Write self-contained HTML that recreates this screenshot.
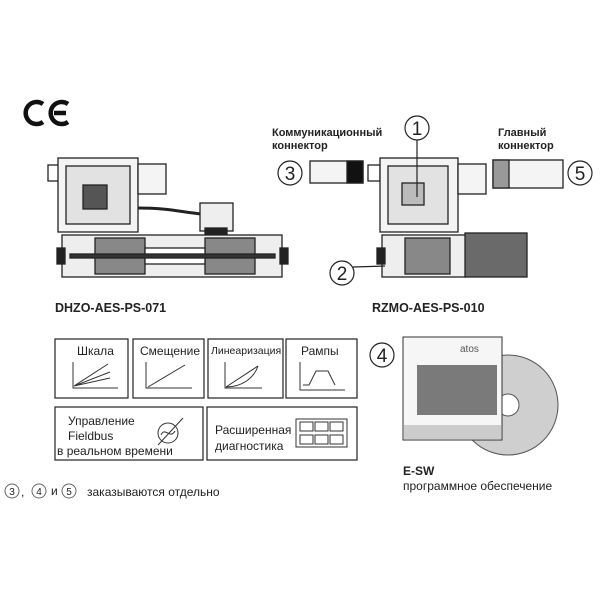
<!DOCTYPE html>
<html><head><meta charset="utf-8"><style>
html,body{margin:0;padding:0;background:#fff;}
svg{display:block;font-family:"Liberation Sans",sans-serif;}
</style></head><body>
<svg width="600" height="600" viewBox="0 0 600 600" xmlns="http://www.w3.org/2000/svg">
<rect width="600" height="600" fill="#fff"/>
<g fill="none" stroke="#111" stroke-width="4.5">
<path d="M43 104 A11 11 0 1 0 43 122"/>
<path d="M68 104 A11 11 0 1 0 68 122 M54 113H66"/>
</g>
<!-- left valve -->
<g stroke="#222" stroke-width="1.3" fill="#fff">
<rect x="48" y="165" width="12" height="16"/>
<rect x="58" y="158" width="80" height="74" fill="#f4f4f4"/>
<rect x="66" y="166" width="64" height="58" fill="#e2e2e2"/>
<rect x="83" y="185" width="24" height="24" fill="#555"/>
<rect x="138" y="164" width="28" height="30" fill="#f4f4f4"/>
<path d="M138 208 C170 208,180 212,202 214" fill="none" stroke-width="3"/>
<rect x="200" y="203" width="33" height="28" fill="#eee"/>
<rect x="205" y="228" width="22" height="10" fill="#222"/>
<rect x="62" y="235" width="220" height="42" fill="#eee"/>
<rect x="57" y="248" width="8" height="16" fill="#222"/>
<rect x="280" y="248" width="8" height="16" fill="#222"/>
<rect x="95" y="238" width="50" height="36" fill="#888"/>
<rect x="205" y="238" width="50" height="36" fill="#888"/>
<rect x="145" y="248" width="60" height="16" fill="#fff"/>
<rect x="70" y="254" width="205" height="4" fill="#333"/>
</g>
<!-- right valve -->
<g stroke="#222" stroke-width="1.3" fill="#fff">
<rect x="368" y="165" width="12" height="16"/>
<rect x="380" y="158" width="78" height="74" fill="#f4f4f4"/>
<rect x="388" y="166" width="60" height="58" fill="#e2e2e2"/>
<rect x="402" y="183" width="22" height="22" fill="#bbb"/>
<rect x="458" y="164" width="28" height="30" fill="#f4f4f4"/>
<rect x="382" y="235" width="84" height="42" fill="#eee"/>
<rect x="377" y="248" width="8" height="16" fill="#222"/>
<rect x="405" y="238" width="45" height="36" fill="#888"/>
<rect x="465" y="233" width="62" height="44" fill="#6a6a6a"/>
<rect x="493" y="160" width="70" height="28" fill="#f4f4f4"/>
<rect x="493" y="160" width="16" height="28" fill="#999"/>
<rect x="310" y="161" width="53" height="22" fill="#f4f4f4"/>
<rect x="347" y="161" width="16" height="22" fill="#111"/>
</g>
<g fill="none" stroke="#222" stroke-width="1.2">
<circle cx="417" cy="128" r="12"/><line x1="417" y1="140" x2="417" y2="197"/>
<circle cx="290" cy="173" r="12"/>
<circle cx="580" cy="173" r="12"/>
<circle cx="342" cy="273" r="12"/><line x1="353" y1="267" x2="385" y2="266"/>
</g>
<g font-size="19" text-anchor="middle" fill="#222">
<text x="417" y="135">1</text><text x="290" y="180">3</text><text x="580" y="180">5</text><text x="342" y="280">2</text>
</g>
<g font-size="11" font-weight="bold" fill="#222">
<text x="272" y="136">Коммуникационный</text><text x="272" y="149">коннектор</text>
<text x="498" y="136">Главный</text><text x="498" y="149">коннектор</text>
<text x="55" y="312" font-size="12.5">DHZO-AES-PS-071</text>
<text x="372" y="312" font-size="12.5">RZMO-AES-PS-010</text>
</g>
<!-- function boxes -->
<g fill="none" stroke="#222" stroke-width="1.2">
<rect x="55" y="339" width="73" height="59"/><rect x="133" y="339" width="71" height="59"/>
<rect x="208" y="339" width="75" height="59"/><rect x="286" y="339" width="71" height="59"/>
<rect x="55" y="407" width="148" height="53"/><rect x="207" y="407" width="150" height="53"/>
</g>
<g font-size="12" fill="#222">
<text x="77" y="355">Шкала</text><text x="140" y="355">Смещение</text>
<text x="211" y="354" font-size="10.5">Линеаризация</text><text x="301" y="355">Рампы</text>
<text x="68" y="425">Управление</text><text x="68" y="440">Fieldbus</text><text x="57" y="455">в реальном времени</text>
<text x="215" y="434">Расширенная</text><text x="215" y="450">диагностика</text>
</g>
<g fill="none" stroke="#333" stroke-width="1">
<path d="M73 362V388H118M74 386L108 364M74 386L110 372M74 386L110 378"/>
<path d="M146 362V388H192M148 387L185 365"/>
<path d="M225 362V388H262M226 387L258 366M226 387C242 387,254 378,258 366"/>
<path d="M300 362V390H345M303 385H309L316 371H328L335 385"/>
<circle cx="168" cy="433" r="10"/><path d="M158 445L183 418M161 435C165 426,170 440,175 431"/>
<rect x="296" y="419" width="51" height="28"/>
<rect x="300" y="422" width="13" height="9"/><rect x="315" y="422" width="13" height="9"/><rect x="330" y="422" width="13" height="9"/>
<rect x="300" y="435" width="13" height="9"/><rect x="315" y="435" width="13" height="9"/><rect x="330" y="435" width="13" height="9"/>
</g>
<!-- CD -->
<circle cx="508" cy="405" r="50" fill="#cfcfcf" stroke="#555"/>
<circle cx="508" cy="405" r="11" fill="#fff" stroke="#555"/>
<rect x="403" y="337" width="99" height="103" fill="#f6f6f6" stroke="#333"/>
<rect x="417" y="365" width="80" height="50" fill="#7a7a7a"/>
<rect x="404" y="425" width="97" height="14" fill="#ccc"/>
<text x="460" y="352" font-size="10" fill="#555">atos</text>
<circle cx="382" cy="355" r="12" fill="none" stroke="#222" stroke-width="1.2"/>
<text x="382" y="362" font-size="19" text-anchor="middle" fill="#222">4</text>
<text x="403" y="475" font-size="12" font-weight="bold" fill="#222">E-SW</text>
<text x="403" y="490" font-size="12" fill="#222">программное обеспечение</text>
<!-- bottom -->
<g fill="none" stroke="#666"><circle cx="12" cy="491" r="7"/><circle cx="39" cy="491" r="7"/><circle cx="69" cy="491" r="7"/></g>
<g font-size="12" fill="#222">
<text x="12" y="495" text-anchor="middle" font-size="10">3</text><text x="21" y="496">,</text><text x="39" y="495" text-anchor="middle" font-size="10">4</text><text x="51" y="495">и</text><text x="69" y="495" text-anchor="middle" font-size="10">5</text>
<text x="87" y="496">заказываются отдельно</text>
</g>
</svg>
</body></html>
